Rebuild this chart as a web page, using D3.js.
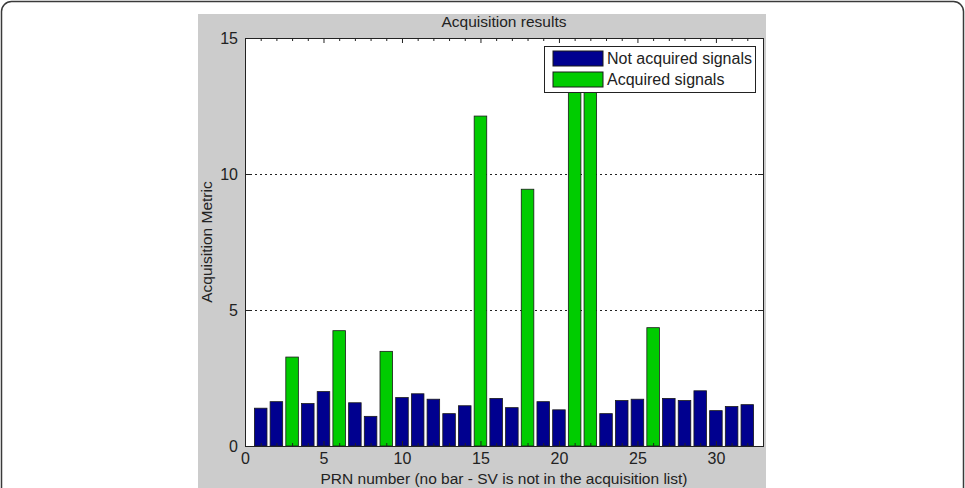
<!DOCTYPE html>
<html>
<head>
<meta charset="utf-8">
<script src="https://cdn.jsdelivr.net/npm/d3@7"></script>
<style>
  body { margin: 0; background: #fff; }
  svg text { font-family: "Liberation Sans", Arial, sans-serif; fill: #222; }
</style>
</head>
<body>
<script>
// PRN numbers 1..32 and the peak metric
const prn = [1,2,3,4,5,6,7,8,9,10,11,12,13,14,15,16,17,18,19,20,21,22,23,24,25,26,27,28,29,30,31,32];
const peakMetric = [1.39,1.63,3.27,1.56,2.0,4.24,1.59,1.09,3.48,1.78,1.92,1.72,1.19,1.48,12.13,1.75,
                    1.41,9.44,1.63,1.33,14.1,14.4,1.19,1.67,1.72,4.35,1.75,1.67,2.03,1.3,1.45,1.52];
// 1 = acquired (green), 0 = not acquired (blue)
const acquired = [0,0,1,0,0,1,0,0,1,0,0,0,0,0,1,0,0,1,0,0,1,1,0,0,0,1,0,0,0,0,0,0];
const xTicks = [0,5,10,15,20,25,30];
const yTicks = [0,5,10,15];
const legendLabels = ["Not acquired signals", "Acquired signals"];

const W = 965, H = 488;
const blue = "#00008f", green = "#00cc00";

const svg = d3.select("body").append("svg")
    .attr("width", W).attr("height", H);

// outer rounded frame
svg.append("rect")
    .attr("x", 1.5).attr("y", 1.5)
    .attr("width", W - 3).attr("height", H + 20)
    .attr("rx", 10)
    .attr("fill", "#fff")
    .attr("stroke", "#3a3a3a")
    .attr("stroke-width", 1.5);

// figure background
svg.append("rect")
    .attr("x", 198).attr("y", 14)
    .attr("width", 568).attr("height", H - 14)
    .attr("fill", "#cccccc");

const axL = 245, axR = 763, axT = 38, axB = 446;

let x = d3.scaleLinear().domain([0, 33]).range([axL, axR]);
let y = d3.scaleLinear().domain([0, 15]).range([axB, axT]);

// axes background
svg.append("rect")
    .attr("x", axL).attr("y", axT)
    .attr("width", axR - axL).attr("height", axB - axT)
    .attr("fill", "#fff");

// dotted y grid
svg.append("g")
    .selectAll("line")
    .data(yTicks.filter(d => d > 0 && d < 15))
    .enter()
    .append("line")
    .attr("x1", axL).attr("x2", axR)
    .attr("y1", d => y(d) + 0.5).attr("y2", d => y(d) + 0.5)
    .attr("stroke", "#222")
    .attr("stroke-dasharray", "2,3");

svg.append("clipPath").attr("id", "plotClip")
    .append("rect")
    .attr("x", axL).attr("y", axT)
    .attr("width", axR - axL).attr("height", axB - axT);

// bars
const barW = 0.8;
svg.append("g")
    .attr("clip-path", "url(#plotClip)")
    .selectAll("rect")
    .data(prn)
    .enter()
    .append("rect")
    .attr("x", (d, i) => x(d - barW / 2))
    .attr("y", (d, i) => y(peakMetric[i]))
    .attr("width", x(barW) - x(0))
    .attr("height", (d, i) => y(0) - y(peakMetric[i]))
    .attr("fill", (d, i) => acquired[i] ? green : blue)
    .attr("stroke", "#1a1a1a")
    .attr("stroke-width", 0.8);

// axes: ticks point inward, box on, minor x ticks
const axisG = svg.append("g").attr("class", "axes");

axisG.append("g")
    .attr("transform", "translate(0," + axB + ")")
    .call(d3.axisBottom(x).tickValues(xTicks).tickSize(-5).tickPadding(7).tickFormat(d3.format("d")));
axisG.append("g")
    .attr("transform", "translate(0," + axT + ")")
    .call(d3.axisTop(x).tickValues(xTicks).tickSize(-5).tickFormat(""));
axisG.append("g")
    .attr("transform", "translate(" + axL + ",0)")
    .call(d3.axisLeft(y).tickValues(yTicks).tickSize(-5).tickPadding(7).tickFormat(d3.format("d")));
axisG.append("g")
    .attr("transform", "translate(" + axR + ",0)")
    .call(d3.axisRight(y).tickValues(yTicks).tickSize(-5).tickFormat(""));

// minor ticks on x
const minor = d3.range(1, 33).filter(d => d % 5 !== 0);
axisG.append("g")
    .attr("transform", "translate(0," + axB + ")")
    .call(d3.axisBottom(x).tickValues(minor).tickSize(-3).tickFormat(""));
axisG.append("g")
    .attr("transform", "translate(0," + axT + ")")
    .call(d3.axisTop(x).tickValues(minor).tickSize(-3).tickFormat(""));

axisG.selectAll(".domain").attr("stroke", "#222");
axisG.selectAll(".tick line").attr("stroke", "#222");
axisG.selectAll(".tick text")
    .attr("font-size", 16)
    .attr("font-family", "Liberation Sans, Arial, sans-serif")
    .attr("fill", "#222");

// title and labels
svg.append("text")
    .attr("x", (axL + axR) / 2).attr("y", 27)
    .attr("text-anchor", "middle")
    .attr("font-size", 15.5)
    .text("Acquisition results");

svg.append("text")
    .attr("x", (axL + axR) / 2).attr("y", 484)
    .attr("text-anchor", "middle")
    .attr("font-size", 15.5)
    .text("PRN number (no bar - SV is not in the acquisition list)");

svg.append("text")
    .attr("transform", "translate(212," + ((axT + axB) / 2) + ") rotate(-90)")
    .attr("text-anchor", "middle")
    .attr("font-size", 15.5)
    .text("Acquisition Metric");

// legend
const lg = svg.append("g").attr("transform", "translate(544,46)");
lg.append("rect")
    .attr("x", 0.5).attr("y", 0.5)
    .attr("width", 211).attr("height", 46)
    .attr("fill", "#fff")
    .attr("stroke", "#222");
lg.selectAll(".sw")
    .data(legendLabels)
    .enter()
    .append("rect")
    .attr("class", "sw")
    .attr("x", 9).attr("y", (d, i) => 5 + i * 21)
    .attr("width", 50).attr("height", 15)
    .attr("fill", (d, i) => i ? green : blue)
    .attr("stroke", "#1a1a1a");
lg.selectAll(".lt")
    .data(legendLabels)
    .enter()
    .append("text")
    .attr("class", "lt")
    .attr("x", 63).attr("y", (d, i) => 18 + i * 21)
    .attr("font-size", 16)
    .text(d => d);
</script>
</body>
</html>
